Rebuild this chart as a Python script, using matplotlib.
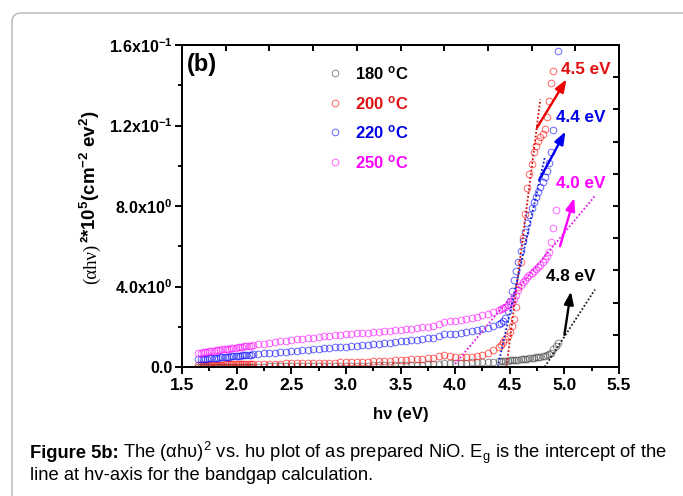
import matplotlib
matplotlib.use('Agg')
import matplotlib.pyplot as plt
from matplotlib.ticker import MultipleLocator
from matplotlib.patches import FancyBboxPatch
from matplotlib.transforms import IdentityTransform

plt.rcParams['font.family'] = ['Liberation Sans', 'DejaVu Sans']
plt.rcParams['mathtext.default'] = 'regular'

nan = float('nan')

# ---------------- data ----------------
energy = [1.65, 1.67, 1.69, 1.71, 1.73, 1.75, 1.77, 1.79, 1.81, 1.83, 1.85, 1.87, 1.89,
          1.91, 1.93, 1.95, 1.97, 1.99, 2.01, 2.03, 2.05, 2.07, 2.09, 2.11, 2.13,
          2.15, 2.20, 2.25, 2.30, 2.35, 2.40, 2.45, 2.50, 2.55, 2.60, 2.65, 2.70, 2.75,
          2.80, 2.85, 2.90, 2.95, 3.00, 3.05, 3.10, 3.15, 3.20, 3.25, 3.30, 3.35, 3.40,
          3.45, 3.50, 3.55, 3.60, 3.65, 3.70, 3.75, 3.80, 3.85, 3.90, 3.95, 4.00, 4.05,
          4.10, 4.15, 4.20, 4.25, 4.30, 4.35, 4.40,
          4.42, 4.44, 4.46, 4.48, 4.50, 4.52, 4.54, 4.56, 4.58, 4.60, 4.62, 4.64, 4.66,
          4.68, 4.70, 4.72, 4.74, 4.76, 4.78, 4.80, 4.82, 4.84, 4.86, 4.88, 4.90, 4.92, 4.94]

y_180 = [0.02] * 25 + [
    0.02, 0.02, 0.02, 0.03, 0.03, 0.03, 0.03, 0.03, 0.04, 0.04, 0.04, 0.04, 0.04,
    0.05, 0.05, 0.05, 0.05, 0.06, 0.06, 0.06, 0.07, 0.07, 0.08, 0.08, 0.09, 0.09,
    0.10, 0.10, 0.11, 0.11, 0.12, 0.12, 0.13, 0.14, 0.16, 0.18, 0.19, 0.20, 0.21,
    0.22, 0.23, 0.24, 0.25, 0.26, 0.27, 0.28,
    0.29, 0.30, 0.31, 0.32, 0.33, 0.34, 0.35, 0.36, 0.37, 0.38, 0.39, 0.40, 0.42,
    0.43, 0.45, 0.46, 0.48, 0.50, 0.51, 0.53, 0.55, 0.58, 0.63, 0.72, 0.88, 1.05, 1.20]

y_200 = [0.10, 0.10, 0.10, 0.11, 0.11, 0.11, 0.11, 0.12, 0.12, 0.12, 0.12, 0.12, 0.13,
         0.13, 0.13, 0.13, 0.13, 0.14, 0.14, 0.14, 0.14, 0.14, 0.15, 0.15, 0.15,
         0.15, 0.15, 0.16, 0.16, 0.17, 0.17, 0.18, 0.18, 0.19, 0.19, 0.20, 0.20, 0.21,
         0.21, 0.22, 0.22, 0.23, 0.23, 0.24, 0.25, 0.26, 0.27, 0.28, 0.29, 0.30, 0.32,
         0.33, 0.35, 0.36, 0.38, 0.40, 0.42, 0.44, 0.47, 0.55, 0.60, 0.56, 0.50, 0.48,
         0.48, 0.50, 0.55, 0.62, 0.72, 0.85, 1.00,
         1.10, 1.25, 1.40, 1.55, 1.75, 2.05, 2.40, 3.00, 4.00, 5.20, 6.40, 7.60, 8.90,
         9.60, 10.10, 10.70, 11.00, 11.25, 11.45, 11.60, 11.85, 12.40, 13.20, 14.10,
         14.70, nan, nan]

y_220 = [0.38, 0.39, 0.40, 0.41, 0.42, 0.43, 0.44, 0.45, 0.46, 0.47, 0.48, 0.49, 0.50,
         0.51, 0.52, 0.53, 0.54, 0.55, 0.56, 0.57, 0.58, 0.59, 0.60, 0.61, 0.62,
         0.63, 0.65, 0.68, 0.70, 0.72, 0.74, 0.76, 0.78, 0.80, 0.83, 0.85, 0.87, 0.90,
         0.92, 0.94, 0.97, 0.99, 1.01, 1.04, 1.06, 1.08, 1.10, 1.13, 1.16, 1.18, 1.21,
         1.24, 1.27, 1.30, 1.33, 1.36, 1.39, 1.42, 1.46, 1.55, 1.65, 1.66, 1.66, 1.70,
         1.74, 1.79, 1.84, 1.90, 1.96, 2.03, 2.12,
         2.18, 2.28, 2.45, 2.80, 3.30, 3.80, 4.30, 4.75, 5.20, 5.75, 6.25, 6.70, 7.15,
         7.55, 7.90, 8.20, 8.45, 8.70, 8.95, 9.20, 9.45, 9.75, 10.15, 10.70, 11.80,
         nan, 15.70]

y_250 = [0.70, 0.72, 0.73, 0.75, 0.76, 0.78, 0.79, 0.81, 0.82, 0.84, 0.85, 0.87, 0.88,
         0.90, 0.91, 0.93, 0.94, 0.96, 0.97, 0.99, 1.00, 1.02, 1.03, 1.05, 1.06,
         1.08, 1.12, 1.16, 1.20, 1.24, 1.28, 1.31, 1.35, 1.38, 1.41, 1.44, 1.46, 1.49,
         1.52, 1.54, 1.57, 1.60, 1.62, 1.64, 1.67, 1.69, 1.71, 1.74, 1.76, 1.78, 1.81,
         1.83, 1.85, 1.88, 1.91, 1.94, 1.97, 2.00, 2.03, 2.12, 2.24, 2.28, 2.29, 2.33,
         2.38, 2.43, 2.50, 2.57, 2.64, 2.72, 2.82,
         2.88, 2.93, 2.99, 3.06, 3.14, 3.25, 3.40, 3.60, 3.85, 4.05, 4.20, 4.32, 4.45,
         4.55, 4.65, 4.75, 4.85, 4.97, 5.08, 5.20, 5.35, 5.50, 5.70, 6.20, 6.90, 7.80,
         nan]

series_labels = ['180 $^{o}$C', '200 $^{o}$C', '220 $^{o}$C', '250 $^{o}$C']
series_values = [y_180, y_200, y_220, y_250]

# linear fits (Tauc extrapolation): x start/end, y start/end
fit_x = [[4.82, 5.28], [4.47, 4.78], [4.39, 4.82], [4.00, 5.28]]
fit_y = [[0.0, 3.85], [0.0, 13.3], [0.0, 10.4], [0.15, 8.5]]

# annotation arrows (tail -> head) and band-gap labels
arrow_tail = [(5.00, 1.6), (4.75, 11.9), (4.77, 9.3), (4.96, 6.0)]
arrow_head = [(5.06, 3.75), (5.02, 14.3), (5.01, 11.7), (5.09, 8.4)]
gap_labels = ['4.8 eV', '4.5 eV', '4.4 eV', '4.0 eV']
gap_label_pos = [(4.83, 4.5), (4.97, 14.8), (4.92, 12.4), (4.92, 9.1)]

xticks = [1.5, 2.0, 2.5, 3.0, 3.5, 4.0, 4.5, 5.0, 5.5]
xtick_labels = ['1.5', '2.0', '2.5', '3.0', '3.5', '4.0', '4.5', '5.0', '5.5']
yticks = [0, 4, 8, 12, 16]
ytick_labels = ['0.0', '4.0x10$^{0}$', '8.0x10$^{0}$', '1.2x10$^{-1}$', '1.6x10$^{-1}$']
top_ticks = [1.5, 1.9, 2.3, 2.7, 3.1, 3.5, 3.9, 4.3, 4.7, 5.1, 5.5]
right_ticks = [0, 1.6, 3.2, 4.8, 6.4, 8.0, 9.6, 11.2, 12.8, 14.4, 16.0]

# ---------------- styles ----------------
marker_colors = ['#404040', '#ff0000', '#0000ff', '#ff00ff']
label_colors = ['#000000', '#e01010', '#0000e6', '#ff00ff']
fit_colors = ['#202020', '#d01010', '#1020d0', '#e020e0']
arrow_colors = ['#000000', '#ee0000', '#0000ee', '#ff00ff']

W, H = 683, 496
fig = plt.figure(figsize=(W / 100, H / 100), dpi=100)
ax = fig.add_axes([182 / W, 1 - 367 / H, (619 - 182) / W, (367 - 45) / H])

handles = []
for yv, col in zip(series_values, marker_colors):
    h, = ax.plot(energy, yv, ls='none', marker='o', ms=4.8, mfc='none',
                 mec=col, mew=0.7, alpha=0.6)
    handles.append(h)

for fx, fy, col in zip(fit_x, fit_y, fit_colors):
    ax.plot(fx, fy, ls=(0, (1, 1.1)), lw=1.3, color=col)

for tail, head, col in zip(arrow_tail, arrow_head, arrow_colors):
    ax.annotate('', xy=head, xytext=tail,
                arrowprops=dict(arrowstyle='-|>,head_length=0.75,head_width=0.28',
                                lw=1.7, color=col, shrinkA=0, shrinkB=0,
                                mutation_scale=10))

for txt, pos, col in zip(gap_labels, gap_label_pos, label_colors):
    ax.text(pos[0], pos[1], txt, color=col, fontsize=12.3, fontweight='bold',
            ha='left', va='center')

ax.text(0.012, 0.975, '(b)', transform=ax.transAxes, fontsize=17,
        fontweight='bold', ha='left', va='top')

ax.set_xlim(1.5, 5.5)
ax.set_ylim(0, 16)
ax.set_xticks(xticks, labels=xtick_labels)
ax.set_yticks(yticks, labels=ytick_labels)
ax.xaxis.set_minor_locator(MultipleLocator(0.25))
ax.yaxis.set_minor_locator(MultipleLocator(2))
ax.tick_params(which='both', direction='out', width=1.4, top=False, right=False)
ax.tick_params(which='major', length=5)
ax.tick_params(which='minor', length=3)
ax.tick_params(axis='x', labelsize=12.5, pad=3)
ax.tick_params(axis='y', labelsize=11.5, pad=2)
for lab in ax.get_xticklabels() + ax.get_yticklabels():
    lab.set_fontweight('bold')
for sp in ax.spines.values():
    sp.set_linewidth(1.4)

top = ax.secondary_xaxis('top')
top.set_xticks(top_ticks)
top.tick_params(direction='in', length=4.5, width=1.4, labeltop=False)
top.spines['top'].set_linewidth(1.4)
right = ax.secondary_yaxis('right')
right.set_yticks(right_ticks)
right.tick_params(direction='in', length=4.5, width=1.4, labelright=False)
right.spines['right'].set_linewidth(1.4)

ax.set_xlabel('hν (eV)', fontsize=12, fontweight='bold')
ax.xaxis.set_label_coords(0.5, -0.125)

leg = ax.legend(handles, series_labels, loc='upper left',
                bbox_to_anchor=(0.327, 0.94), frameon=False,
                prop=dict(family='Liberation Sans', weight='bold', size=12),
                handlelength=1.2, handletextpad=0.6, labelspacing=0.69,
                borderpad=0, borderaxespad=0, labelcolor=label_colors)

# frame around the figure panel
frame = FancyBboxPatch((12, -40), 760, H - 13 + 40,
                       boxstyle='round,pad=0,rounding_size=9',
                       transform=IdentityTransform(), fill=False,
                       ec='#b4b4b4', lw=1.0)
fig.add_artist(frame)

# y label made of two parts (serif symbol part + bold part)
xb = 96 / W
t1 = fig.text(xb, 1 - 284 / H, '(αhν)', family='Liberation Serif', fontsize=13.5,
              rotation=90, rotation_mode='anchor', ha='left', va='baseline')
fig.canvas.draw()
r = fig.canvas.get_renderer()
bb1 = t1.get_window_extent(r)
t2 = fig.text(xb, (bb1.y1 + 0.5) / H, '²*10$^{5}$(cm$^{-2}$ ev$^{2}$)',
              fontsize=13.5, fontweight='bold', rotation=90,
              rotation_mode='anchor', ha='left', va='baseline')

# caption
cap_size = 13.2
t3 = fig.text(30 / W, 1 - 458 / H, 'Figure 5b:', fontsize=cap_size, fontweight='bold',
              ha='left', va='baseline')
fig.canvas.draw()
bb3 = t3.get_window_extent(r)
fig.text((bb3.x1 + 4) / W, 1 - 458 / H,
         'The (αhυ)$^{2}$ vs. hυ plot of as prepared NiO. E$_{g}$ is the intercept of the',
         fontsize=cap_size, ha='left', va='baseline')
fig.text(30 / W, 1 - 480 / H, 'line at hv-axis for the bandgap calculation.',
         fontsize=cap_size, ha='left', va='baseline')

fig.savefig('out.png', dpi=100)
